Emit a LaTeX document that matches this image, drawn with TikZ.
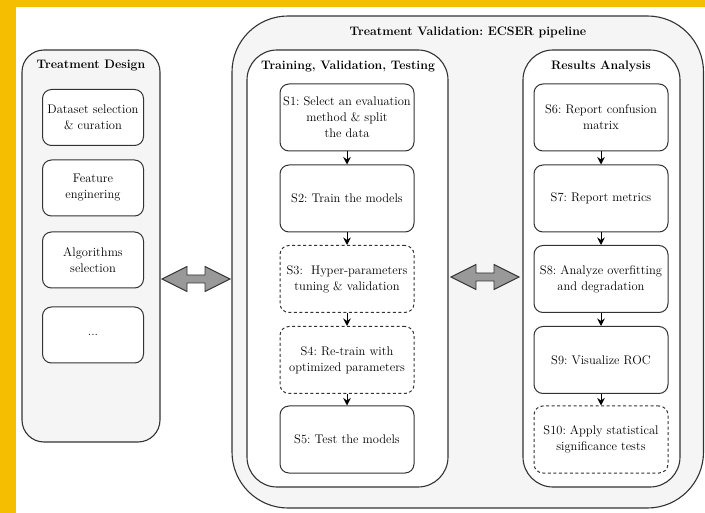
\documentclass[tikz,border=0pt]{standalone}
\usetikzlibrary{arrows.meta,calc}
\frenchspacing
\definecolor{edge}{HTML}{333333}
\definecolor{panel}{HTML}{F5F5F5}
\definecolor{band}{RGB}{246,190,0}
\definecolor{arrowfill}{HTML}{999999}
\tikzset{
  frame/.style={draw=edge, line width=1.1pt, fill=panel},
  innerframe/.style={draw=edge, line width=1.1pt, fill=white},
  stepbox/.style={draw=edge, line width=1pt, fill=white, rounded corners=9pt,
    minimum width=134pt, minimum height=67pt, align=center, inner sep=1pt,
    font=\fontsize{12.5}{16}\selectfont},
  optbox/.style={stepbox, dashed, dash pattern=on 3pt off 2.5pt},
  itembox/.style={stepbox, minimum width=101pt, minimum height=56pt},
  heading/.style={font=\fontsize{12.3}{14}\selectfont\bfseries},
  flow/.style={-{Stealth[length=7.5pt,width=7.5pt]}, line width=1pt, black},
  twoway/.style={draw=edge, line width=0.9pt, fill=arrowfill, line join=miter},
}
\begin{document}
\begin{tikzpicture}[x=1pt,y=-1pt]
\useasboundingbox (0,0) rectangle (705,513);
% page edge bands
\fill[band] (0,0) rectangle (705,7);
\fill[band] (0,0) rectangle (16,513);

% left panel: treatment design
\draw[frame, rounded corners=22pt] (22,50) rectangle (160,442);
\node[heading] (tdtitle) at (91,66) {Treatment Design};
\node[itembox] (ds) at (93,117.5) {Dataset selection\\ \& curation};
\node[itembox] (fe) at (93,188) {Feature\\ enginering};
\node[itembox] (as) at (93,260) {Algorithms\\ selection};
\node[itembox] (more) at (93,335) {...};

% outer pipeline container
\draw[frame, rounded corners=56pt] (232,16) rectangle (703.5,508);
\node[heading] (tvtitle) at (468,32) {Treatment Validation: ECSER pipeline};

% training / validation / testing column
\draw[innerframe, rounded corners=30pt] (247,50) rectangle (448,487);
\node[heading] (trtitle) at (348,66) {Training, Validation, Testing};
\node[stepbox] (s1) at (347,117.5) {S1: Select an evaluation\\ method \& split\\ the data};
\node[stepbox] (s2) at (347,198.5) {S2: Train the models};
\node[optbox]  (s3) at (347,279) {S3:\ \ Hyper-parameters\\ tuning \& validation};
\node[optbox]  (s4) at (347,360) {S4: Re-train with\\ optimized parameters};
\node[stepbox] (s5) at (347,439.5) {S5: Test the models};

% results analysis column
\draw[innerframe, rounded corners=30pt] (523,50) rectangle (680,487);
\node[heading] (ratitle) at (601,66) {Results Analysis};
\node[stepbox] (s6) at (601,117.5) {S6: Report confusion\\ matrix};
\node[stepbox] (s7) at (601,198.5) {S7: Report metrics};
\node[stepbox] (s8) at (601,279) {S8: Analyze overfitting\\ and degradation};
\node[stepbox] (s9) at (601,360) {S9: Visualize ROC};
\node[optbox]  (s10) at (601,439.5) {S10: Apply statistical\\ significance tests};

% step order
\foreach \a/\b in {s1/s2,s2/s3,s3/s4,s4/s5,s6/s7,s7/s8,s8/s9,s9/s10}
  \draw[flow] (\a.south) -- (\b.north);

% two-way exchange arrows
\coordinate (la) at (196,279);
\coordinate (ra) at (485,277);
\foreach \c in {la,ra}
  \draw[twoway] ($(\c)+(-34,0)$) -- ++(25,-12.5) -- ++(0,8.5) -- ++(18,0)
    -- ++(0,-8.5) -- ++(25,12.5) -- ++(-25,12.5) -- ++(0,-8.5) -- ++(-18,0)
    -- ++(0,8.5) -- cycle;
\end{tikzpicture}
\end{document}
